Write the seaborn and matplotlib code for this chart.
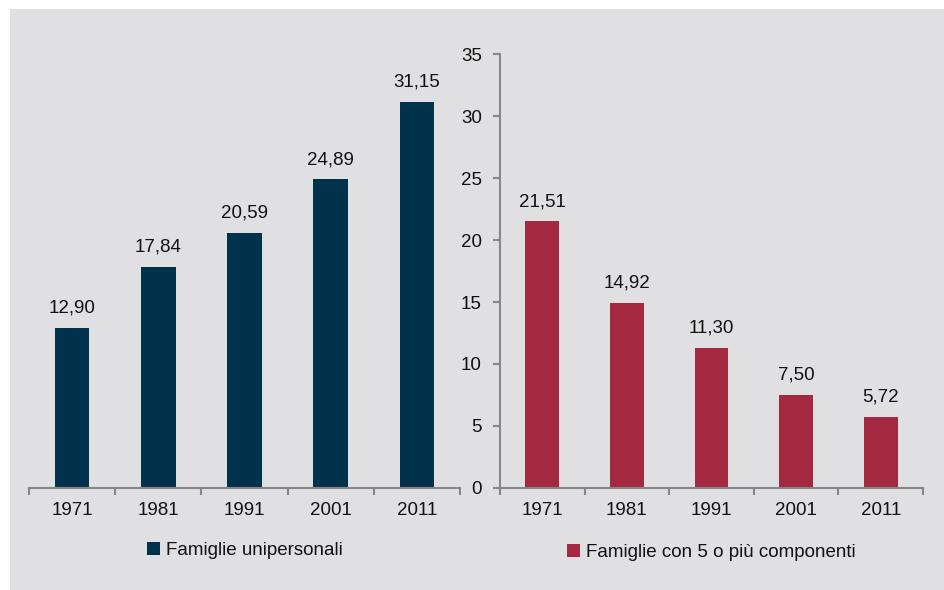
import matplotlib
matplotlib.use("Agg")
import matplotlib.pyplot as plt
from matplotlib.patches import Rectangle
from matplotlib.ticker import FixedLocator
import seaborn as sns

years = ["1971", "1981", "1991", "2001", "2011"]
unipersonali = [12.90, 17.84, 20.59, 24.89, 31.15]
cinque_piu = [21.51, 14.92, 11.30, 7.50, 5.72]
label_uni = "Famiglie unipersonali"
label_cinque = "Famiglie con 5 o più componenti"

sns.set_style("white")
plt.rcParams["font.family"] = ["Liberation Sans", "DejaVu Sans"]
fs = 13.5

fig = plt.figure(figsize=(9.44, 5.90), dpi=100)
fig.patch.set_facecolor("white")
bg = Rectangle((10 / 944, 0), 1, 581 / 590, transform=fig.transFigure,
               facecolor="#e0e0e2", edgecolor="none", zorder=-10)
fig.add_artist(bg)

ax1 = fig.add_axes([29 / 944, 102 / 590, 431 / 944, 434 / 590])
ax2 = fig.add_axes([500 / 944, 102 / 590, 423 / 944, 434 / 590])

spine_col = "#868686"
for ax, vals, col, lab in [(ax1, unipersonali, "#01324b", label_uni),
                           (ax2, cinque_piu, "#a4283f", label_cinque)]:
    sns.barplot(x=years, y=vals, color=col, width=0.4, ax=ax, label=lab,
                saturation=1, edgecolor="none", linewidth=0)
    ax.set_facecolor("none")
    ax.set_xlim(-0.5, 4.5)
    ax.set_ylim(0, 35)
    ax.set_xlabel("")
    ax.set_ylabel("")
    labels = [f"{v:.2f}".replace(".", ",") for v in vals]
    ax.bar_label(ax.containers[0], labels=labels, padding=8, fontsize=fs,
                 color="#111111")
    for s in ["top", "right"]:
        ax.spines[s].set_visible(False)
    ax.spines["bottom"].set_color(spine_col)
    ax.spines["bottom"].set_linewidth(1.5)
    ax.xaxis.set_minor_locator(FixedLocator([-0.5, 0.5, 1.5, 2.5, 3.5, 4.5]))
    ax.tick_params(axis="x", which="major", length=0, pad=10, labelsize=fs,
                   labelcolor="#111111")
    ax.tick_params(axis="x", which="minor", length=5, width=1.5, color=spine_col,
                   direction="out", bottom=True)
    ax.legend(loc="center", bbox_to_anchor=(0.5, -0.145 if ax is ax1 else -0.148),
              frameon=False, handlelength=0.7, handleheight=0.7,
              handletextpad=0.3, fontsize=fs, labelcolor="#111111")

ax1.spines["left"].set_visible(False)
ax1.set_yticks([])

ax2.spines["left"].set_color(spine_col)
ax2.spines["left"].set_linewidth(1.5)
ax2.set_yticks(range(0, 36, 5))
ax2.tick_params(axis="y", length=5, width=1.5, color=spine_col, direction="out",
                left=True, pad=8, labelsize=fs, labelcolor="#111111")

fig.savefig("out.png", dpi=100, facecolor=fig.get_facecolor())
